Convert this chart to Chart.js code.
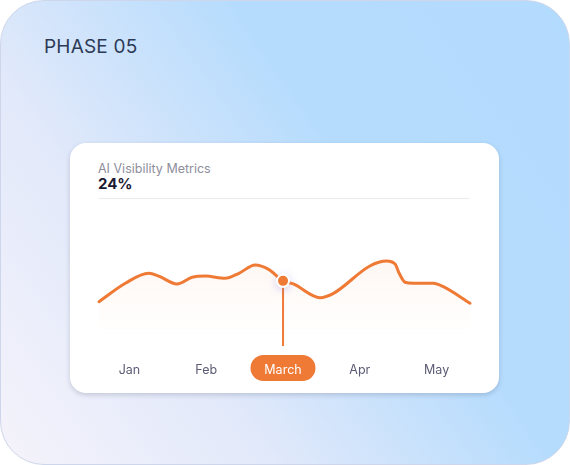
<!DOCTYPE html>
<html>
<head>
<meta charset="utf-8">
<script src="https://cdn.jsdelivr.net/npm/chart.js@4.4.1/dist/chart.umd.min.js"></script>
<style>
  html, body { margin: 0; padding: 0; width: 570px; height: 465px; background: #fff; overflow: hidden; font-family: Inter, "Noto Sans", sans-serif; }
  .outer {
    position: absolute; left: 0; top: 0; width: 568px; height: 463px;
    border: 1px solid #cdd6ea; border-radius: 44px;
    background: linear-gradient(55deg, #f5f3fb 0%, #e2e9fa 30%, #b6dcfd 62%, #b3dbfd 100%);
  }
  .phase { position: absolute; left: 44px; top: 35px; font-size: 19px; color: #2c3a56; letter-spacing: 0.2px; }
  .card {
    position: absolute; left: 70px; top: 143px; width: 429px; height: 250px;
    background: #fff; border-radius: 16px;
    box-shadow: 0 2px 5px rgba(40, 50, 80, 0.2);
  }
  .card .label { position: absolute; left: 28px; top: 18px; font-size: 12.5px; color: #8e8e9c; }
  .card .value { position: absolute; left: 28px; top: 31px; font-size: 15px; font-weight: 700; color: #1c1b33; }
  .card .sep { position: absolute; left: 28px; width: 372px; top: 55px; height: 1px; background: #ececf0; }
  .chart-box { position: absolute; left: 0; top: 57px; width: 429px; height: 190px; }
</style>
</head>
<body>
<div class="outer"></div>
<div class="phase">PHASE 05</div>
<div class="card">
  <div class="label">AI Visibility Metrics</div>
  <div class="value">24%</div>
  <div class="sep"></div>
  <div class="chart-box"><canvas id="chart" width="429" height="190"></canvas></div>
</div>
<script>
// month labels along the bottom
const months = ['Jan', 'Feb', 'March', 'Apr', 'May'];
const activeMonth = 'March';

// visibility line (x 0-100 across the plot, y 0-100)
const visX = [0, 7.1, 13.4, 16.1, 21.0, 25.1, 28.7, 34.0, 37.7, 42.1, 45.7, 49.6, 52.4, 59.6, 63.2, 73.0, 77.5, 79.8, 80.9, 82.5, 84.7, 90.1, 92.8, 100];
const visY = [36.9, 52.3, 60.6, 58.3, 51.7, 57.3, 58.3, 56.4, 60.6, 67.5, 63.9, 54.3, 51.7, 40.3, 43.9, 66.7, 70.8, 68.3, 60.6, 53.1, 52.3, 52.3, 49.4, 35.6];
const markerIndex = 11;

const orange = '#ef7a35';

const markerPlugin = {
  id: 'marker',
  beforeDraw(chart) {
    // pill behind the active month label
    const ctx = chart.ctx;
    const xs = chart.scales.x2;
    const i = months.indexOf(activeMonth);
    const cx = xs.getPixelForTick(i);
    const w = 65, h = 26, cy = xs.top + 22;
    ctx.save();
    ctx.fillStyle = orange;
    ctx.beginPath();
    ctx.roundRect(cx - w / 2, cy - h / 2, w, h, h / 2);
    ctx.fill();
    ctx.restore();
  },
  beforeDatasetsDraw(chart) {
    const ctx = chart.ctx;
    const pt = chart.getDatasetMeta(0).data[markerIndex];
    ctx.save();
    ctx.strokeStyle = orange;
    ctx.lineWidth = 2;
    ctx.beginPath();
    ctx.moveTo(pt.x, pt.y);
    ctx.lineTo(pt.x, chart.chartArea.bottom);
    ctx.stroke();
    // soft glow under the marker
    ctx.shadowColor = 'rgba(120, 110, 230, 0.35)';
    ctx.shadowBlur = 8;
    ctx.shadowOffsetY = 2;
    ctx.fillStyle = '#fff';
    ctx.beginPath();
    ctx.arc(pt.x, pt.y, 7, 0, Math.PI * 2);
    ctx.fill();
    ctx.restore();
  }
};

new Chart(document.getElementById('chart'), {
  type: 'line',
  data: {
    datasets: [{
      data: visX.map((x, i) => ({ x: x, y: visY[i] })),
      borderColor: orange,
      borderWidth: 3,
      borderCapStyle: 'round',
      borderJoinStyle: 'round',
      cubicInterpolationMode: 'monotone',
      fill: 'origin',
      backgroundColor: (c) => {
        const { ctx, chartArea } = c.chart;
        if (!chartArea) return 'transparent';
        const g = ctx.createLinearGradient(0, chartArea.top + 35, 0, chartArea.bottom - 8);
        g.addColorStop(0, 'rgba(245, 130, 60, 0.06)');
        g.addColorStop(1, 'rgba(245, 130, 60, 0)');
        return g;
      },
      pointRadius: (c) => c.dataIndex === markerIndex ? 6 : 0,
      pointHoverRadius: 0,
      pointBackgroundColor: orange,
      pointBorderColor: '#fff',
      pointBorderWidth: 2
    }]
  },
  options: {
    responsive: false,
    animation: false,
    layout: { padding: { left: 21, right: 24, top: 26, bottom: 0 } },
    plugins: { legend: { display: false }, tooltip: { enabled: false } },
    scales: {
      x: { type: 'linear', display: false, min: -2.16, max: 101.34 },
      x2: {
        type: 'category',
        labels: months,
        position: 'bottom',
        offset: true,
        grid: { display: false },
        border: { display: false },
        afterFit: (s) => { s.height = 44; },
        ticks: {
          padding: 9,
          font: { family: 'Inter', size: 12.5 },
          color: (c) => months[c.index] === activeMonth ? '#ffffff' : '#5c5b74'
        }
      },
      y: { display: false, min: 0, max: 100 }
    }
  },
  plugins: [markerPlugin]
});
</script>
</body>
</html>
